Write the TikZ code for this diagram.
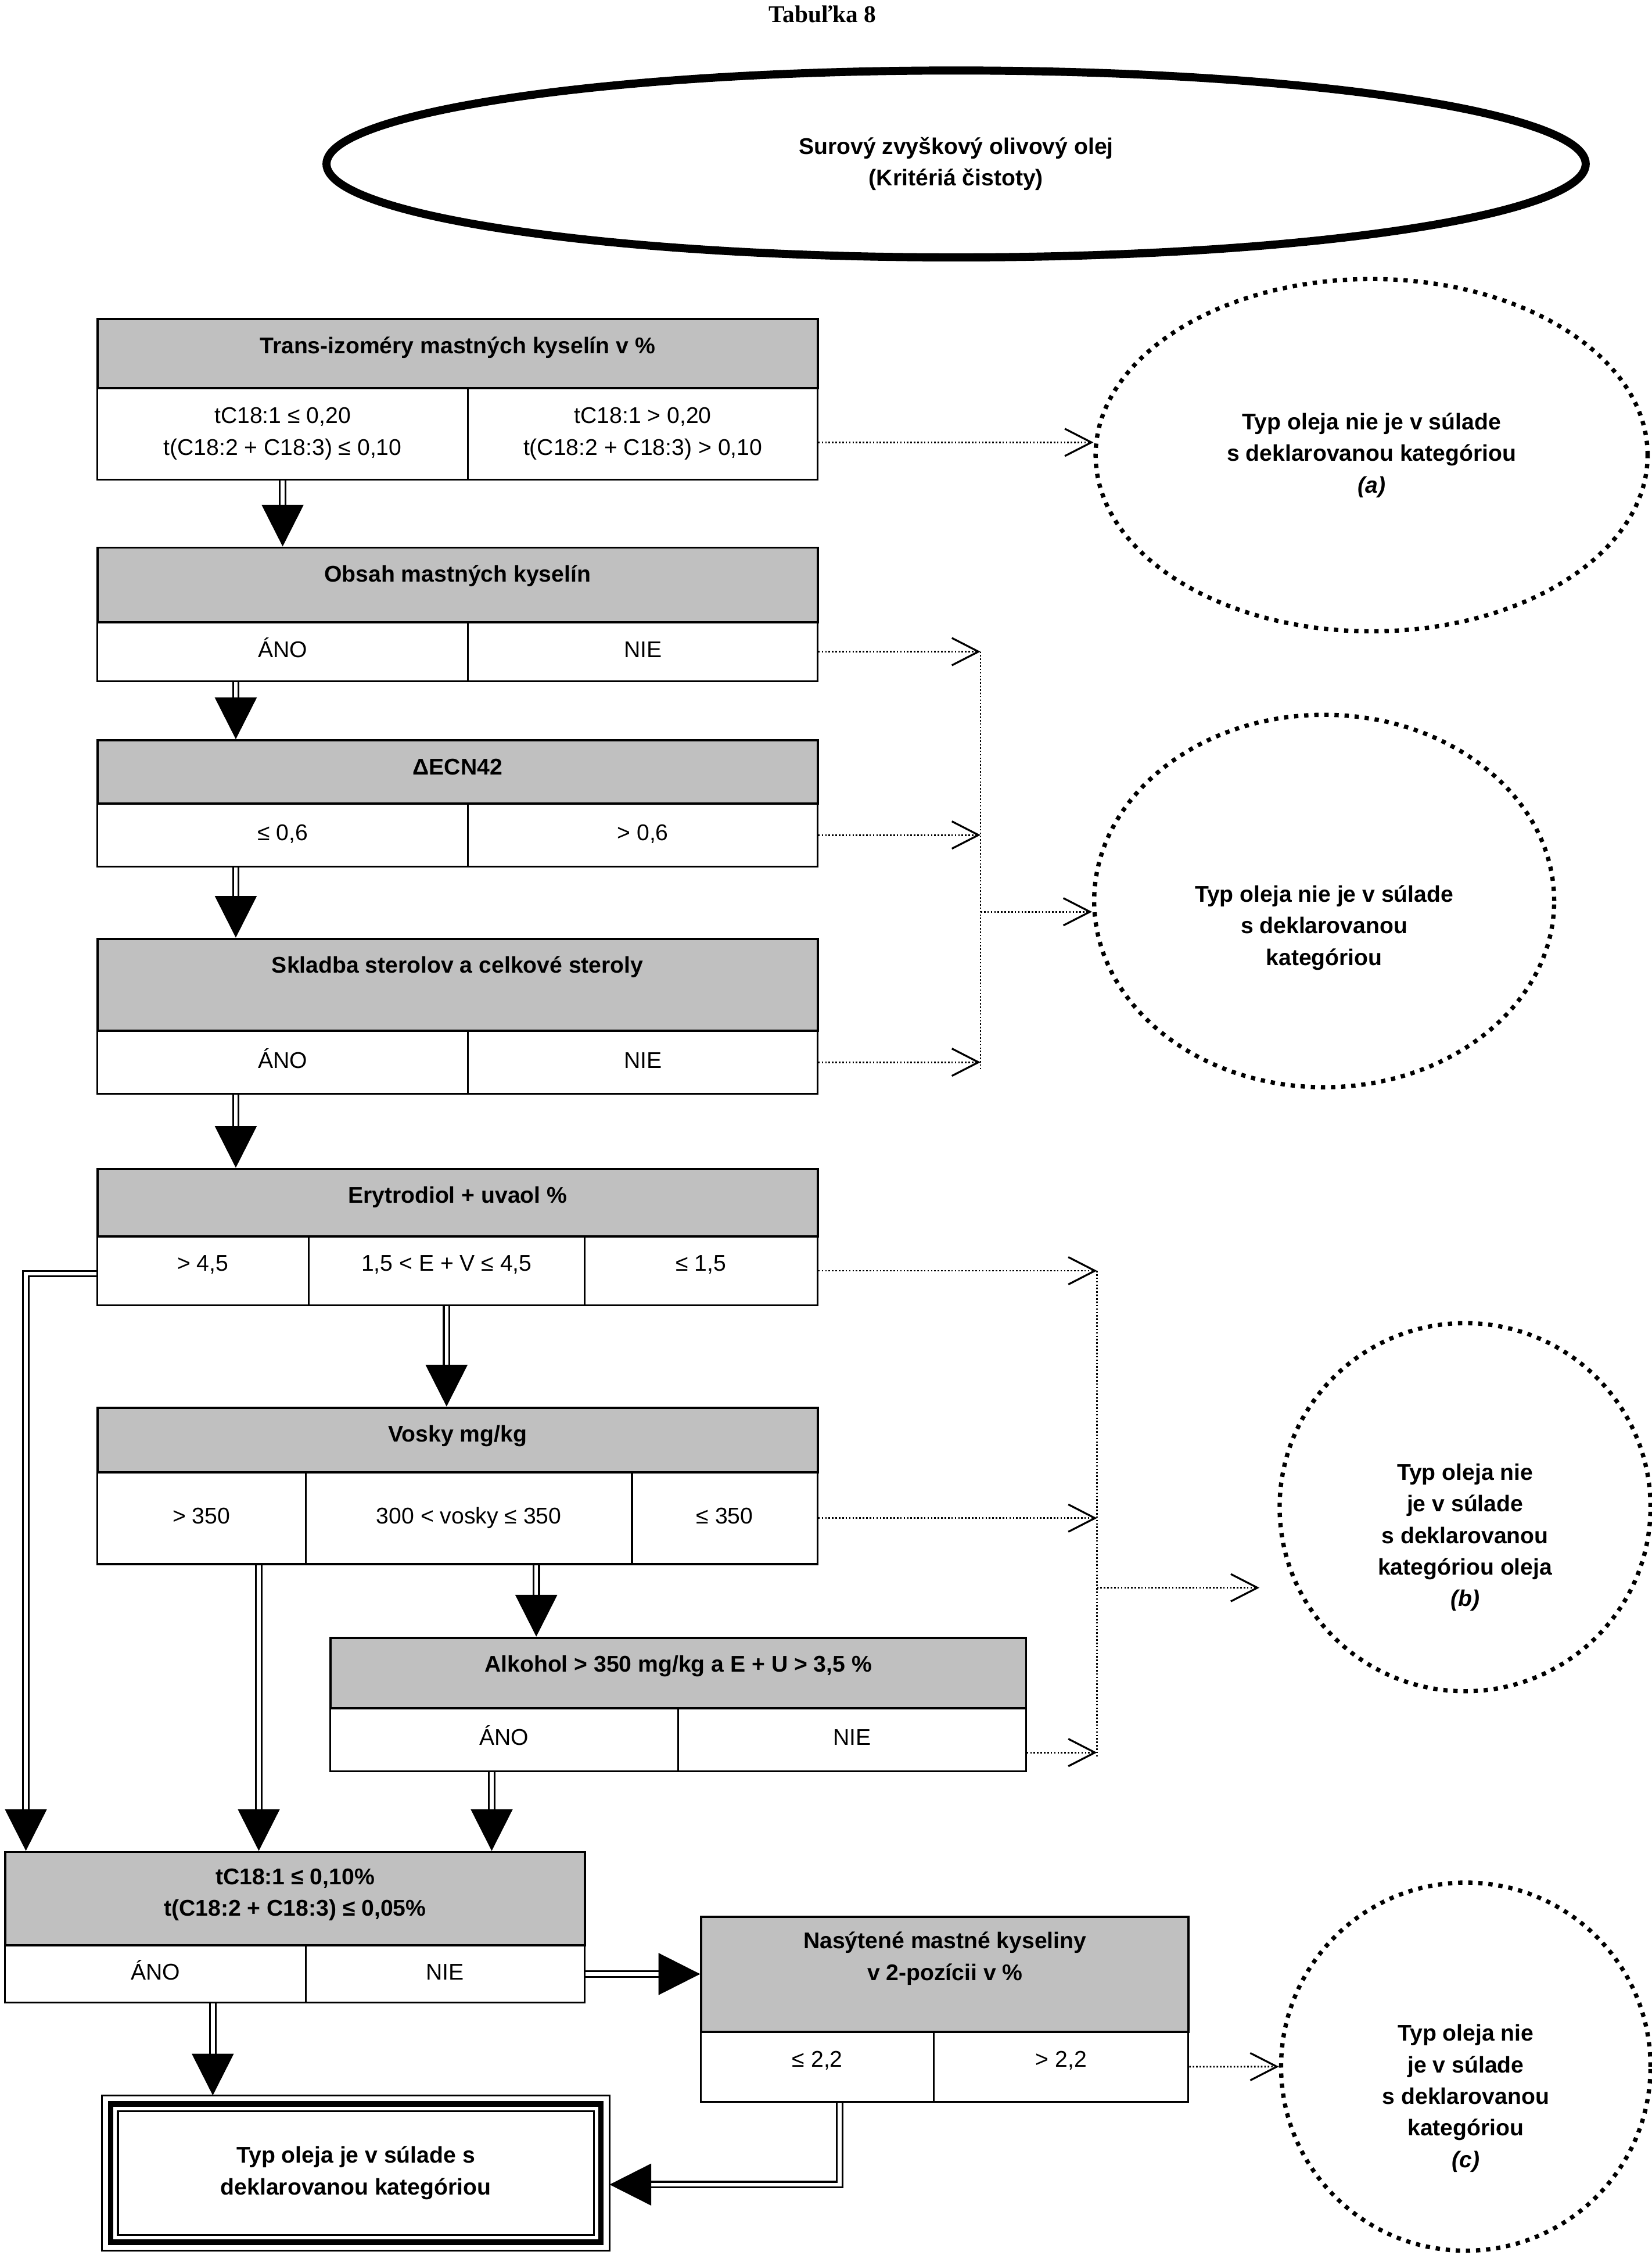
\documentclass[tikz,border=0pt]{standalone}
\usepackage{fontspec}
\setmainfont{Liberation Sans}
\newfontfamily\titlefont{Liberation Serif}
\usetikzlibrary{arrows.meta,shapes.geometric}
\definecolor{headgray}{RGB}{192,192,192}

\begin{document}
\begin{tikzpicture}[x=0.02cm, y=-0.02cm, font=\fontsize{9}{12.5}\selectfont,
 >={Triangle[length=0.58cm, width=0.58cm]},
 head/.style={draw, fill=headgray, line width=0.9pt, anchor=north west, inner sep=0pt},
 cell/.style={draw, line width=0.7pt, anchor=north west, inner sep=0pt, align=center},
 ctr/.style={text height=0.23cm, text depth=0.07cm},
 raised/.style={text height=0.22cm, text depth=0.22cm},
 htext/.style={anchor=base, yshift=-0.494cm, inner sep=0pt, font=\fontsize{9}{12.5}\selectfont\bfseries},
 htwo/.style={anchor=north, inner sep=0pt, align=center, font=\fontsize{9}{12.5}\selectfont\bfseries},
 bubble/.style={ellipse, draw, line width=1.7pt, dash pattern=on 1.7pt off 2.3pt, inner sep=0pt},
 btext/.style={anchor=center, align=center, font=\fontsize{9}{12.5}\selectfont\bfseries},
 okbox/.style={draw, line width=2.2pt, outer sep=0pt, align=center, font=\fontsize{9}{12.5}\selectfont\bfseries},
 flow/.style={->, double, double distance=1.5pt, line width=0.7pt},
 rejline/.style={line width=0.65pt, dash pattern=on 0.6pt off 0.75pt},
 reject/.style={rejline, -{Straight Barb[length=0.37cm, width=0.38cm, line width=0.75pt]}}]

\useasboundingbox (0,0) rectangle (1149,1568);

\node[font=\fontsize{9.5}{12}\selectfont\titlefont\bfseries] (title) at (572,10) {Tabuľka 8};
\node[ellipse, draw, line width=3.2pt, minimum width=17.52cm, minimum height=2.6cm, align=center, font=\fontsize{9}{12.5}\selectfont\bfseries] (src) at (665,114) {Surový zvyškový olivový olej\\(Kritériá čistoty)};

\node[head, minimum width=10.02cm, minimum height=0.96cm, label={[htext]north:{Trans-izoméry mastných kyselín v \%}}] (tr) at (67,221) {};
\node[cell, minimum width=5.16cm, minimum height=1.28cm] (tr1) at (67,269) {tC18:1 ≤ 0,20\\t(C18:2 + C18:3) ≤ 0,10};
\node[cell, minimum width=4.86cm, minimum height=1.28cm] (tr2) at (325,269) {tC18:1 > 0,20\\t(C18:2 + C18:3) > 0,10};

\node[head, minimum width=10.02cm, minimum height=1.04cm, label={[htext]north:{Obsah mastných kyselín}}] (ob) at (67,380) {};
\node[cell, ctr, minimum width=5.16cm, minimum height=0.82cm] (obY) at (67,432) {ÁNO};
\node[cell, ctr, minimum width=4.86cm, minimum height=0.82cm] (obN) at (325,432) {NIE};

\node[head, minimum width=10.02cm, minimum height=0.88cm, label={[htext]north:{ΔECN42}}] (ecn) at (67,514) {};
\node[cell, ctr, minimum width=5.16cm, minimum height=0.88cm] (ecnY) at (67,558) {≤ 0,6};
\node[cell, ctr, minimum width=4.86cm, minimum height=0.88cm] (ecnN) at (325,558) {> 0,6};

\node[head, minimum width=10.02cm, minimum height=1.28cm, label={[htext]north:{Skladba sterolov a celkové steroly}}] (st) at (67,652) {};
\node[cell, ctr, minimum width=5.16cm, minimum height=0.88cm] (stY) at (67,716) {ÁNO};
\node[cell, ctr, minimum width=4.86cm, minimum height=0.88cm] (stN) at (325,716) {NIE};

\node[head, minimum width=10.02cm, minimum height=0.94cm, label={[htext]north:{Erytrodiol + uvaol \%}}] (ery) at (67,812) {};
\node[cell, raised, minimum width=2.94cm, minimum height=0.96cm] (eryA) at (67,859) {> 4,5};
\node[cell, raised, minimum width=3.84cm, minimum height=0.96cm] (eryM) at (214,859) {1,5 < E + V ≤ 4,5};
\node[cell, raised, minimum width=3.24cm, minimum height=0.96cm] (eryN) at (406,859) {≤ 1,5};

\node[head, minimum width=10.02cm, minimum height=0.9cm, label={[htext]north:{Vosky mg/kg}}] (vo) at (67,978) {};
\node[cell, ctr, minimum width=2.9cm, minimum height=1.28cm] (voA) at (67,1023) {> 350};
\node[cell, ctr, minimum width=4.54cm, minimum height=1.28cm] (voM) at (212,1023) {300 < vosky ≤ 350};
\node[cell, ctr, minimum width=2.58cm, minimum height=1.28cm] (voN) at (439,1023) {≤ 350};

\node[head, minimum width=9.68cm, minimum height=0.98cm, label={[htext]north:{Alkohol > 350 mg/kg a E + U > 3,5 \%}}] (al) at (229,1138) {};
\node[cell, ctr, minimum width=4.84cm, minimum height=0.88cm] (alY) at (229,1187) {ÁNO};
\node[cell, ctr, minimum width=4.84cm, minimum height=0.88cm] (alN) at (471,1187) {NIE};

\node[head, minimum width=8.06cm, minimum height=1.3cm, label={[htwo, yshift=-0.24cm]north:{tC18:1 ≤ 0,10\%\\t(C18:2 + C18:3) ≤ 0,05\%}}] (tc) at (3,1287) {};
\node[cell, ctr, minimum width=4.18cm, minimum height=0.8cm] (tcY) at (3,1352) {ÁNO};
\node[cell, ctr, minimum width=3.88cm, minimum height=0.8cm] (tcN) at (212,1352) {NIE};

\node[head, minimum width=6.78cm, minimum height=1.6cm, label={[htwo, yshift=-0.22cm]north:{Nasýtené mastné kyseliny\\v 2-pozícii v \%}}] (sfa) at (487,1332) {};
\node[cell, raised, minimum width=3.24cm, minimum height=0.98cm] (sfaY) at (487,1412) {≤ 2,2};
\node[cell, raised, minimum width=3.54cm, minimum height=0.98cm] (sfaN) at (649,1412) {> 2,2};

\node[okbox, minimum width=6.82cm, minimum height=1.92cm] (ok) at (247.5,1511) {Typ oleja je v súlade s\\deklarovanou kategóriou};
\draw[line width=0.75pt] ([shift={(-0.12cm,0.12cm)}]ok.north west) rectangle ([shift={(0.12cm,-0.12cm)}]ok.south east);
\draw[line width=0.75pt] ([shift={(0.1cm,-0.1cm)}]ok.north west) rectangle ([shift={(-0.1cm,0.1cm)}]ok.south east);

\node[bubble, minimum width=7.68cm, minimum height=4.9cm, label={[btext]center:{Typ oleja nie je v súlade\\s deklarovanou kategóriou\\\textit{(a)}}}] (na) at (954,316.5) {};
\node[bubble, minimum width=6.4cm, minimum height=5.18cm, label={[btext, yshift=-0.37cm]center:{Typ oleja nie je v súlade\\s deklarovanou\\kategóriou}}] (nx) at (921,626.5) {};
\node[bubble, minimum width=5.16cm, minimum height=5.12cm, label={[btext, yshift=-0.42cm]center:{Typ oleja nie\\je v súlade\\s deklarovanou\\kategóriou oleja\\\textit{(b)}}}] (nb) at (1019,1048) {};
\node[bubble, minimum width=5.14cm, minimum height=5.12cm, label={[btext, yshift=-0.44cm]center:{Typ oleja nie\\je v súlade\\s deklarovanou\\kategóriou\\\textit{(c)}}}] (nc) at (1019.5,1437) {};

\coordinate (xt) at (164,0);
\coordinate (xv) at (373,0);
\coordinate (xl) at (18,0);
\coordinate (xw) at (180,0);
\coordinate (xa) at (342,0);
\coordinate (xy) at (148,0);
\coordinate (xs) at (584,0);
\coordinate (ja) at (682,0);
\coordinate (jb) at (763,0);
\coordinate (kb) at (763,1104);
\coordinate (tb) at (876,1104);

\path
 (tr1.south) edge[flow] (ob.north -| tr1.south)
 (obY.south -| xt) edge[flow] (ecn.north -| xt)
 (ecnY.south -| xt) edge[flow] (st.north -| xt)
 (stY.south -| xt) edge[flow] (ery.north -| xt)
 (eryM.south) edge[flow] (vo.north -| eryM.south)
 (voM.south -| xv) edge[flow] (al.north -| xv)
 (voA.south -| xw) edge[flow] (tc.north -| xw)
 (alY.south -| xa) edge[flow] (tc.north -| xa)
 (tcN.east) edge[flow] (tcN.east -| sfa.west)
 (tcY.south -| xy) edge[flow] ([yshift=0.12cm]ok.north -| xy);
\draw[flow] ([yshift=-0.04cm]eryA.west) -| (tc.north -| xl);
\draw[flow] (sfaY.south -| xs) |- ([shift={(0.12cm,-0.16cm)}]ok.east);

\draw[reject] ([yshift=-0.12cm]tr2.east) -- ([yshift=-0.12cm]tr2.east -| na.west);
\draw[reject] (obN.east) -- (obN.east -| ja);
\draw[reject] (ecnN.east) -- (ecnN.east -| ja);
\draw[reject] (stN.east) -- (stN.east -| ja);
\draw[rejline] (obN.east -| ja) -- ([yshift=-0.1cm]stN.east -| ja);
\draw[reject] ([yshift=-0.15cm]nx.west -| ja) -- ([yshift=-0.15cm]nx.west);
\draw[reject] (eryN.east) -- (eryN.east -| jb);
\draw[reject] (voN.east) -- (voN.east -| jb);
\draw[reject] ([yshift=-0.18cm]alN.east) -- ([yshift=-0.18cm]alN.east -| jb);
\draw[rejline] (eryN.east -| jb) -- ([yshift=-0.26cm]alN.east -| jb);
\draw[reject] (kb) -- (tb);
\draw[reject] (sfaN.east) -- (nc.west);
\end{tikzpicture}
\end{document}
